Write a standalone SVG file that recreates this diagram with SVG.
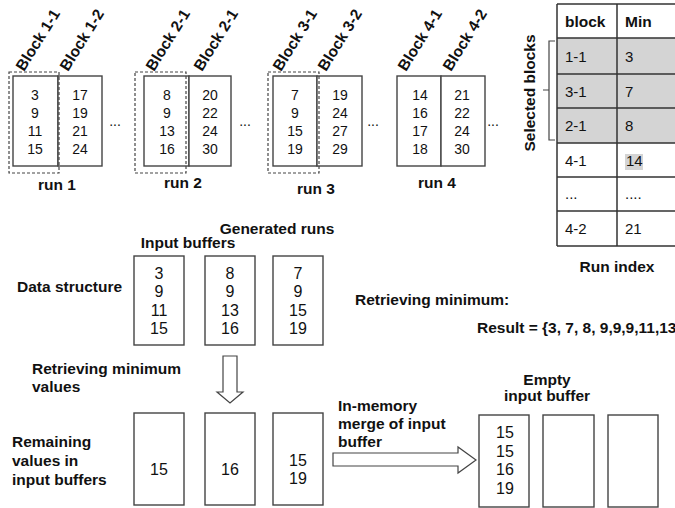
<svg xmlns="http://www.w3.org/2000/svg" width="675" height="508" viewBox="0 0 675 508">
<style>
text{font-family:"Liberation Sans",Arial,sans-serif;fill:#111}
.b{font-weight:bold;font-size:15.5px}
.n{font-size:14px;text-anchor:middle}
.m{font-size:16px;text-anchor:middle}
.t{font-size:15px}
.c{text-anchor:middle}
.box{fill:#fff;stroke:#444;stroke-width:1.4}
.dash{fill:none;stroke:#444;stroke-width:1.2;stroke-dasharray:3,2}
.tl{stroke:#333;stroke-width:1.5;fill:none}
.arr{fill:#fff;stroke:#444;stroke-width:1.2}
</style>
<g id="run1">
<rect class="box" x="13" y="76" width="45" height="90"/>
<rect class="box" x="58" y="76" width="44" height="90"/>
<rect class="dash" x="9" y="72" width="50" height="101"/>
<text class="n" x="35" y="100">3</text><text class="n" x="35" y="118">9</text><text class="n" x="35" y="136">11</text><text class="n" x="35" y="154">15</text>
<text class="n" x="80" y="100">17</text><text class="n" x="80" y="118">19</text><text class="n" x="80" y="136">21</text><text class="n" x="80" y="154">24</text>
<text class="b" transform="translate(24,72) rotate(-58)">Block 1-1</text>
<text class="b" transform="translate(68,72) rotate(-58)">Block 1-2</text>
<text class="b c" x="57" y="190">run 1</text>
</g>
<g id="run2">
<rect class="box" x="144" y="76" width="45" height="90"/>
<rect class="box" x="189" y="76" width="42" height="90"/>
<rect class="dash" x="135" y="72" width="51" height="101"/>
<text class="n" x="167" y="100">8</text><text class="n" x="167" y="118">9</text><text class="n" x="167" y="136">13</text><text class="n" x="167" y="154">16</text>
<text class="n" x="210" y="100">20</text><text class="n" x="210" y="118">22</text><text class="n" x="210" y="136">24</text><text class="n" x="210" y="154">30</text>
<text class="b" transform="translate(154,72) rotate(-58)">Block 2-1</text>
<text class="b" transform="translate(202,72) rotate(-58)">Block 2-1</text>
<text class="b c" x="183" y="188">run 2</text>
</g>
<g id="run3">
<rect class="box" x="273" y="76" width="44" height="90"/>
<rect class="box" x="317" y="76" width="45" height="90"/>
<rect class="dash" x="268" y="72" width="51" height="101"/>
<text class="n" x="295" y="100">7</text><text class="n" x="295" y="118">9</text><text class="n" x="295" y="136">15</text><text class="n" x="295" y="154">19</text>
<text class="n" x="340" y="100">19</text><text class="n" x="340" y="118">24</text><text class="n" x="340" y="136">27</text><text class="n" x="340" y="154">29</text>
<text class="b" transform="translate(281,72) rotate(-58)">Block 3-1</text>
<text class="b" transform="translate(326,72) rotate(-58)">Block 3-2</text>
<text class="b c" x="316" y="194">run 3</text>
</g>
<g id="run4">
<rect class="box" x="397" y="76" width="44" height="90"/>
<rect class="box" x="441" y="76" width="44" height="90"/>
<text class="n" x="420" y="100">14</text><text class="n" x="420" y="118">16</text><text class="n" x="420" y="136">17</text><text class="n" x="420" y="154">18</text>
<text class="n" x="462" y="100">21</text><text class="n" x="462" y="118">22</text><text class="n" x="462" y="136">24</text><text class="n" x="462" y="154">30</text>
<text class="b" transform="translate(406,72) rotate(-58)">Block 4-1</text>
<text class="b" transform="translate(451,72) rotate(-58)">Block 4-2</text>
<text class="b c" x="437" y="188">run 4</text>
</g>
<g id="ellipses">
<text class="n" x="115" y="126">...</text>
<text class="n" x="245" y="126">...</text>
<text class="n" x="373" y="126">...</text>
<text class="n" x="493" y="126">...</text>
</g>
<g id="run-index">
<rect x="557" y="38" width="118" height="105" fill="#d4d4d4"/>
<rect x="625" y="154" width="18" height="16" fill="#d4d4d4"/>
<path class="tl" d="M557 4H675M557 38H675M557 74H675M557 108H675M557 143H675M557 177H675M557 211H675M557 246H675M557 4V246M617 4V246"/>
<text class="b" x="565" y="27">block</text><text class="b" x="625" y="27">Min</text>
<text class="t" x="565" y="62">1-1</text><text class="t" x="625" y="62">3</text>
<text class="t" x="565" y="97">3-1</text><text class="t" x="625" y="97">7</text>
<text class="t" x="565" y="131">2-1</text><text class="t" x="625" y="131">8</text>
<text class="t" x="565" y="166">4-1</text><text class="t" x="626" y="166">14</text>
<text class="t" x="565" y="199">...</text><text class="t" x="625" y="199">....</text>
<text class="t" x="565" y="234">4-2</text><text class="t" x="625" y="234">21</text>
<text class="b c" x="617" y="272">Run index</text>
<path d="M555 41H549V140H555M549 90H543" fill="none" stroke="#444" stroke-width="1.2"/>
<text class="b c" transform="translate(535,93) rotate(-90)">Selected blocks</text>
</g>
<g id="data-structure">
<text class="b c" x="277" y="234">Generated runs</text>
<text class="b c" x="188" y="248">Input buffers</text>
<text class="b" x="17" y="292">Data structure</text>
<rect class="box" x="134" y="256" width="50" height="89"/>
<rect class="box" x="205" y="256" width="50" height="89"/>
<rect class="box" x="273" y="256" width="50" height="89"/>
<text class="m" x="159" y="279">3</text><text class="m" x="159" y="297">9</text><text class="m" x="159" y="316">11</text><text class="m" x="159" y="334">15</text>
<text class="m" x="230" y="279">8</text><text class="m" x="230" y="297">9</text><text class="m" x="230" y="316">13</text><text class="m" x="230" y="334">16</text>
<text class="m" x="298" y="279">7</text><text class="m" x="298" y="297">9</text><text class="m" x="298" y="316">15</text><text class="m" x="298" y="334">19</text>
<text class="b" x="355" y="305">Retrieving minimum:</text>
<text class="b" x="477" y="333">Result = {3, 7, 8, 9,9,9,11,13</text>
</g>
<g id="remaining">
<text class="b" x="32" y="374">Retrieving minimum</text>
<text class="b" x="32" y="392">values</text>
<text class="b" x="12" y="447">Remaining</text>
<text class="b" x="12" y="466">values in</text>
<text class="b" x="12" y="485">input buffers</text>
<rect class="box" x="134" y="413" width="50" height="92"/>
<rect class="box" x="205" y="413" width="50" height="92"/>
<rect class="box" x="273" y="413" width="50" height="92"/>
<text class="m" x="159" y="475">15</text>
<text class="m" x="230" y="475">16</text>
<text class="m" x="298" y="466">15</text><text class="m" x="298" y="484">19</text>
</g>
<g id="merged">
<text class="b" x="338" y="411">In-memory</text>
<text class="b" x="338" y="429">merge of input</text>
<text class="b" x="338" y="447">buffer</text>
<text class="b c" x="547" y="385">Empty</text>
<text class="b c" x="547" y="401">input buffer</text>
<rect class="box" x="479" y="415" width="50" height="92"/>
<rect class="box" x="543" y="415" width="51" height="92"/>
<rect class="box" x="608" y="415" width="50" height="92"/>
<text class="m" x="505" y="438">15</text><text class="m" x="505" y="457">15</text><text class="m" x="505" y="475">16</text><text class="m" x="505" y="494">19</text>
</g>
<g id="connectors">
<path class="arr" d="M223 356H237V392H243L230 403L217 392H223Z"/>
<path class="arr" d="M333 453H458V447L476 460L458 473V466H333Z"/>
</g>
</svg>
